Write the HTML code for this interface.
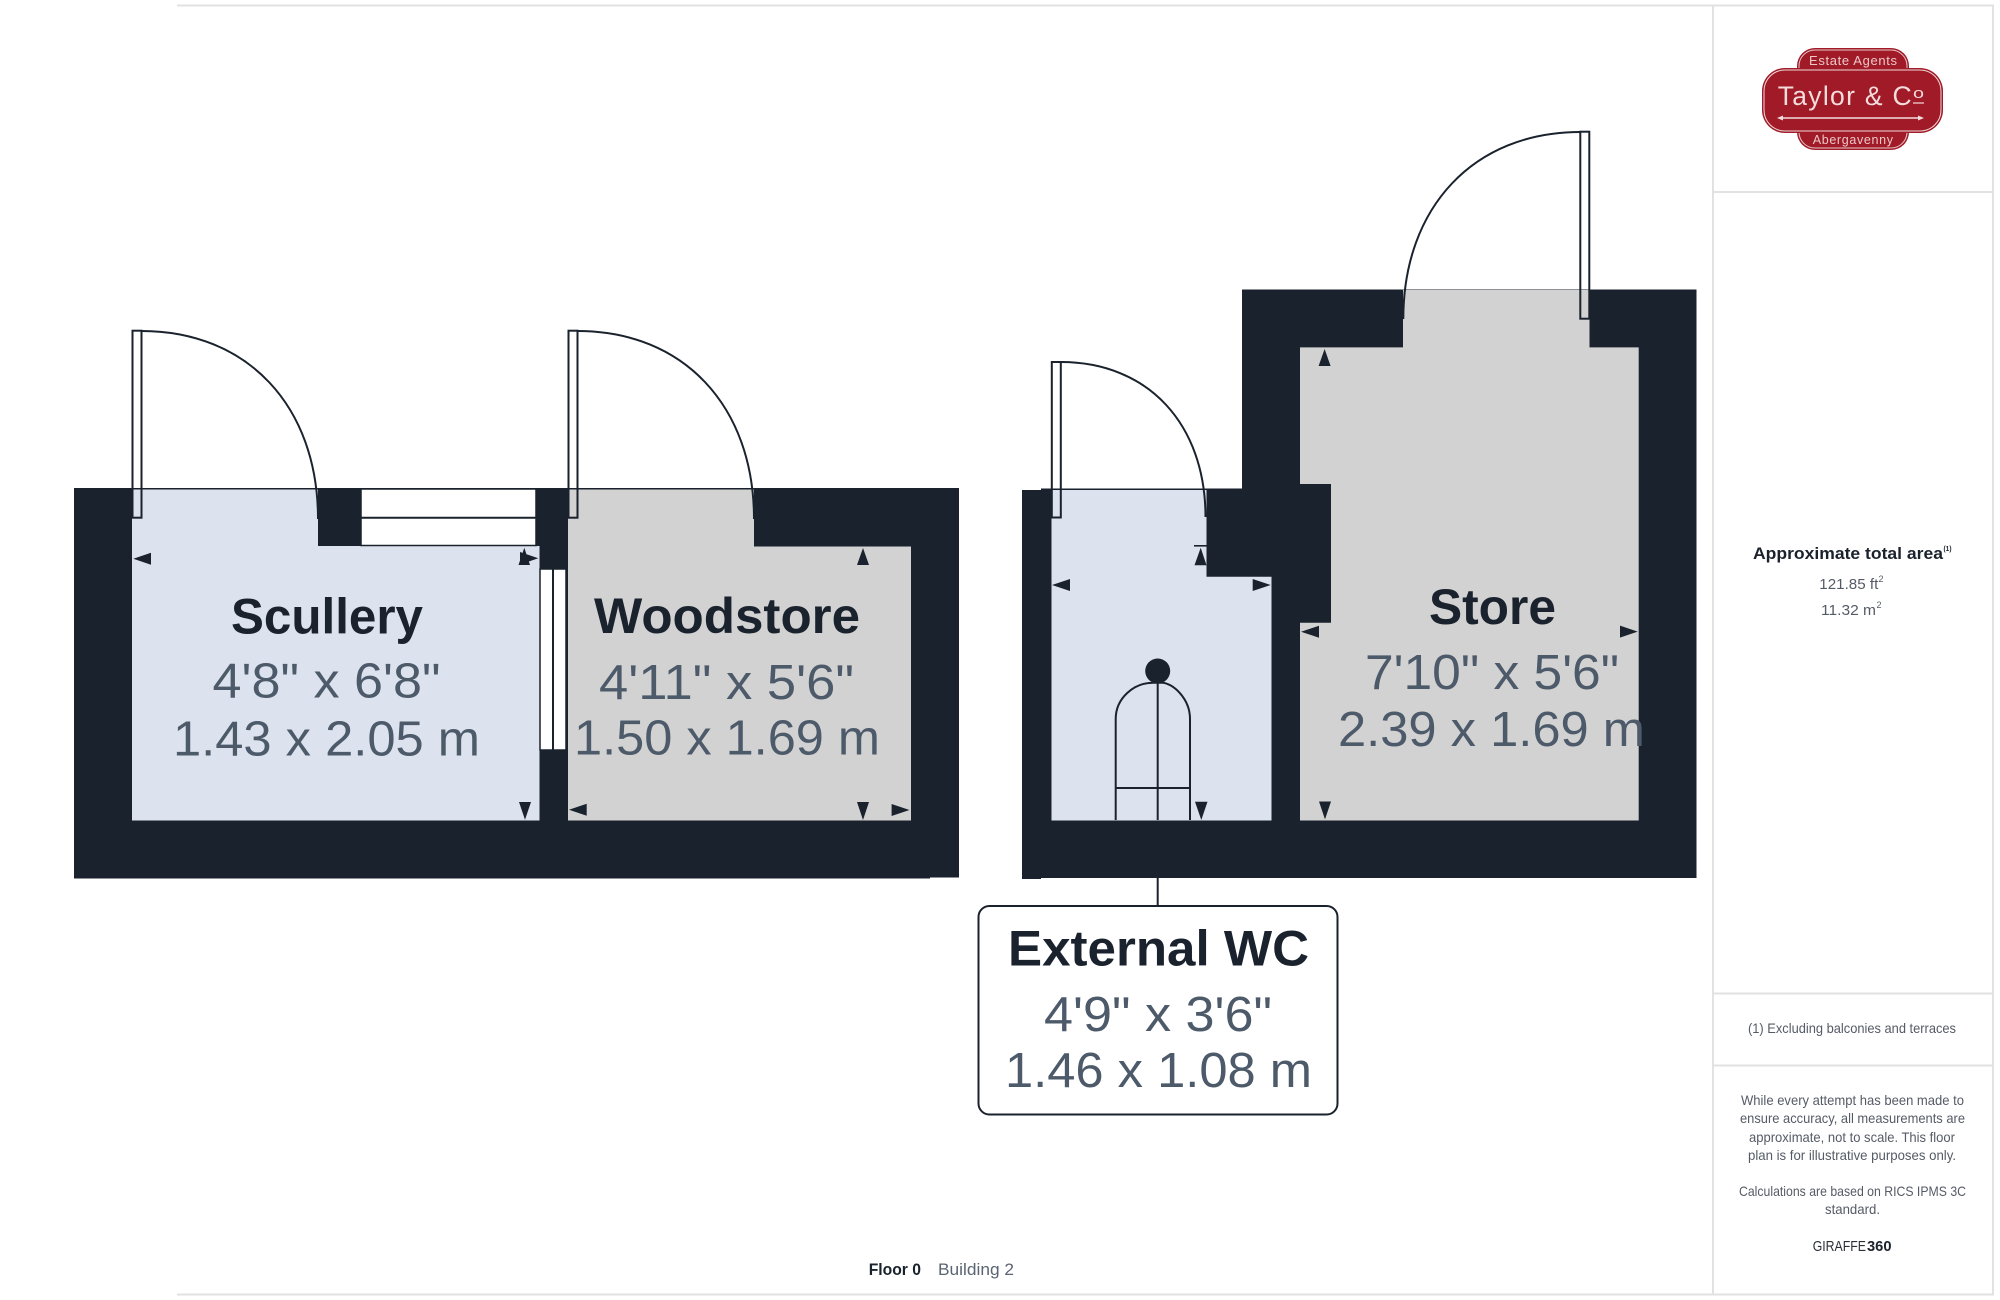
<!DOCTYPE html>
<html lang="en">
<head>
<meta charset="utf-8">
<title>Floor plan</title>
<style>
html,body{margin:0;padding:0;background:#fff;width:2000px;height:1300px;overflow:hidden}
svg{display:block;font-family:"Liberation Sans",sans-serif}
.t{font-weight:700;fill:#1a222d;font-size:50px}
.d{fill:#4d5a6a;font-size:49px}
.s{fill:#555b66;font-size:14px}
</style>
</head>
<body>
<svg width="2000" height="1300" viewBox="0 0 2000 1300" xmlns="http://www.w3.org/2000/svg">
<!-- panel lines -->
<g stroke="#e2e2e2" stroke-width="2" fill="none">
<path d="M177 5.500H1993V1294.500H177"/>
<path d="M1713 5V1294"/>
<path d="M1713 192H1993M1713 993.500H1993M1713 1065.500H1993"/>
</g>

<!-- left building walls -->
<polygon fill="#1a222d" points="74,488 925,488 959,488 959,877.500 930,877.500 930,878.500 74,878.500"/>
<!-- scullery floor -->
<polygon fill="#dde3ee" points="132,489.500 318,489.500 318,546 539.500,546 539.500,820.500 132,820.500"/>
<!-- woodstore floor -->
<polygon fill="#d2d2d2" points="568,489.500 754,489.500 754,546.500 911,546.500 911,820.500 568,820.500"/>
<!-- top window -->
<rect x="361" y="489" width="175" height="56.500" fill="#fff" stroke="#1a222d" stroke-width="1.500"/>
<path d="M361 517.700H536" stroke="#1a222d" stroke-width="2"/>
<!-- side window -->
<rect x="540" y="569" width="26" height="181" fill="#fff" stroke="#1a222d" stroke-width="1.500"/>
<path d="M553 569V750" stroke="#1a222d" stroke-width="2"/>

<!-- right building walls -->
<polygon fill="#1a222d" points="1022,490 1041,490 1041,488.500 1242,488.500 1242,289.500 1696.500,289.500 1696.500,878 1041,878 1041,879 1022,879"/>
<!-- wc floor -->
<polygon fill="#dde3ee" points="1051.500,490 1206.500,490 1206.500,576.700 1271.500,576.700 1271.500,820.500 1051.500,820.500"/>
<!-- store floor -->
<polygon fill="#d2d2d2" points="1403,290 1589.500,290 1589.500,347.400 1638.700,347.400 1638.700,820.500 1300,820.500 1300,622.700 1331,622.700 1331,484 1300,484 1300,347.400 1403,347.400"/>

<!-- doors -->
<g fill="none" stroke="#1a222d" stroke-width="2">
<rect x="132.500" y="330.700" width="9" height="187"/>
<path d="M141.500 331C247.500 331 318 406 318 519"/>
<rect x="568.500" y="330.700" width="9" height="187"/>
<path d="M577.500 331C683.500 331 754 406 754 519"/>
<rect x="1051.800" y="362" width="9" height="155.500"/>
<path d="M1060.800 362C1148 362 1205.500 424 1205.500 517"/>
<rect x="1580.300" y="131.700" width="9" height="187"/>
<path d="M1580.300 132C1474 132 1403.300 207 1403.300 319"/>
</g>

<!-- toilet -->
<g fill="none" stroke="#1a222d" stroke-width="2">
<path d="M1115.700 820V719C1115.700 698 1134 682.700 1153 682.700H1162C1172 682.700 1190 698 1190 719V820"/>
<path d="M1157.700 682V820"/>
<path d="M1115.700 788H1190"/>
</g>
<circle cx="1157.700" cy="671" r="12.500" fill="#1a222d"/>

<!-- dimension arrows -->
<g fill="#1a222d">
<polygon points="133.300,558.700 151,552.700 151,564.700"/>
<polygon points="524.300,547.700 530,565 518.500,565"/>
<polygon points="538.300,558.300 520,552 520,564.500"/>
<polygon points="525,819.700 519,802 531,802"/>
<polygon points="863,548 857,565 869,565"/>
<polygon points="569,809.800 586.700,803.800 586.700,815.800"/>
<polygon points="863,820 857,802 869,802"/>
<polygon points="909.500,810 891.600,804 891.600,816"/>
<polygon points="1200.700,547.700 1206.500,565.300 1194.500,565.300"/>
<rect x="1194" y="545" width="12.700" height="1.600"/>
<polygon points="1052,585 1070,579 1070,591"/>
<polygon points="1270.700,585 1252.700,579 1252.700,591"/>
<polygon points="1201.300,820 1195,801.700 1207.500,801.700"/>
<polygon points="1301,631.700 1319,625.700 1319,637.700"/>
<polygon points="1637.700,631.600 1620,625.600 1620,637.600"/>
<polygon points="1324.600,349 1318.600,366 1330.600,366"/>
<polygon points="1325,819.400 1319,801.500 1331,801.500"/>
</g>

<!-- room labels -->
<text class="t" x="231" y="633.700" textLength="192" lengthAdjust="spacingAndGlyphs">Scullery</text>
<text class="d" x="212.500" y="697.500" textLength="228" lengthAdjust="spacingAndGlyphs">4'8" x 6'8"</text>
<text class="d" x="173" y="755.500" textLength="307" lengthAdjust="spacingAndGlyphs">1.43 x 2.05 m</text>

<text class="t" x="594" y="633" textLength="266" lengthAdjust="spacingAndGlyphs">Woodstore</text>
<text class="d" x="599" y="699" textLength="255" lengthAdjust="spacingAndGlyphs">4'11" x 5'6"</text>
<text class="d" x="574" y="754.500" textLength="306" lengthAdjust="spacingAndGlyphs">1.50 x 1.69 m</text>

<text class="t" x="1429" y="624" textLength="127" lengthAdjust="spacingAndGlyphs">Store</text>
<text class="d" x="1365" y="689" textLength="254" lengthAdjust="spacingAndGlyphs">7'10" x 5'6"</text>
<text class="d" x="1338" y="746" textLength="307" lengthAdjust="spacingAndGlyphs">2.39 x 1.69 m</text>

<!-- External WC callout -->
<path d="M1157.700 878V905" stroke="#1a222d" stroke-width="2"/>
<rect x="978.500" y="906" width="359" height="208.500" rx="11" ry="11" fill="#fff" stroke="#1a222d" stroke-width="2"/>
<text class="t" x="1008" y="965.700" textLength="301" lengthAdjust="spacingAndGlyphs">External WC</text>
<text class="d" x="1044" y="1031" textLength="228" lengthAdjust="spacingAndGlyphs">4'9" x 3'6"</text>
<text class="d" x="1005" y="1087" textLength="307" lengthAdjust="spacingAndGlyphs">1.46 x 1.08 m</text>

<!-- footer label -->
<text x="868.700" y="1275" font-size="17" font-weight="700" fill="#1a222d" textLength="52.300" lengthAdjust="spacingAndGlyphs">Floor 0</text>
<text x="938" y="1275" font-size="17" fill="#5a6472" textLength="76" lengthAdjust="spacingAndGlyphs">Building 2</text>

<!-- logo -->
<g>
<rect x="1797" y="48" width="112" height="102" rx="18" ry="18" fill="#a01a27"/>
<rect x="1799" y="50" width="108" height="98" rx="16" ry="16" fill="none" stroke="#e8c8c8" stroke-width="1"/>
<rect x="1762" y="68" width="181" height="65" rx="23" ry="23" fill="#a01a27"/>
<rect x="1764" y="70" width="177" height="61" rx="21" ry="21" fill="none" stroke="#f0d8d8" stroke-width="1"/>
<text x="1809" y="65" font-size="13" fill="#ecc8c8" textLength="88" lengthAdjust="spacing">Estate Agents</text>
<text x="1777.700" y="105" font-size="26.500" fill="#f3dcdc" textLength="134" lengthAdjust="spacing">Taylor &amp; C</text>
<text x="1913" y="98" font-size="15" fill="#f3dcdc" textLength="11" lengthAdjust="spacingAndGlyphs">o</text>
<path d="M1913 103H1924" stroke="#f3dcdc" stroke-width="1.200"/>
<path d="M1780 118H1921" stroke="#f3dcdc" stroke-width="1.500"/>
<polygon points="1777,118 1783,115.500 1783,120.500" fill="#f3dcdc"/>
<polygon points="1924,118 1918,115.500 1918,120.500" fill="#f3dcdc"/>
<text x="1812.700" y="144" font-size="12.500" fill="#ecc8c8" textLength="80.300" lengthAdjust="spacing">Abergavenny</text>
</g>

<!-- area -->
<text x="1753" y="559" font-size="17" font-weight="700" fill="#1a222d" textLength="190" lengthAdjust="spacingAndGlyphs">Approximate total area</text>
<text x="1943.500" y="551" font-size="7.500" font-weight="700" fill="#1a222d" textLength="8" lengthAdjust="spacingAndGlyphs">(1)</text>
<text x="1819.300" y="589" font-size="15" fill="#555b66" textLength="59" lengthAdjust="spacingAndGlyphs">121.85 ft</text>
<text x="1878.500" y="582" font-size="9" fill="#555b66">2</text>
<text x="1821" y="615" font-size="15" fill="#555b66" textLength="55" lengthAdjust="spacingAndGlyphs">11.32 m</text>
<text x="1876.500" y="608" font-size="9" fill="#555b66">2</text>

<!-- notes -->
<text class="s" x="1748" y="1033" textLength="208" lengthAdjust="spacingAndGlyphs">(1) Excluding balconies and terraces</text>
<text class="s" x="1741" y="1105" textLength="223" lengthAdjust="spacingAndGlyphs">While every attempt has been made to</text>
<text class="s" x="1740" y="1123" textLength="225" lengthAdjust="spacingAndGlyphs">ensure accuracy, all measurements are</text>
<text class="s" x="1749" y="1142" textLength="206" lengthAdjust="spacingAndGlyphs">approximate, not to scale. This floor</text>
<text class="s" x="1748" y="1160" textLength="208" lengthAdjust="spacingAndGlyphs">plan is for illustrative purposes only.</text>
<text class="s" x="1739" y="1196" textLength="227" lengthAdjust="spacingAndGlyphs">Calculations are based on RICS IPMS 3C</text>
<text class="s" x="1825" y="1214" textLength="55" lengthAdjust="spacingAndGlyphs">standard.</text>
<text x="1812.700" y="1251" font-size="14.500" fill="#2a2f38" textLength="53.300" lengthAdjust="spacingAndGlyphs">GIRAFFE</text>
<text x="1867" y="1251" font-size="14.500" font-weight="700" fill="#1a222d" textLength="24.500" lengthAdjust="spacingAndGlyphs">360</text>
</svg>
</body>
</html>
